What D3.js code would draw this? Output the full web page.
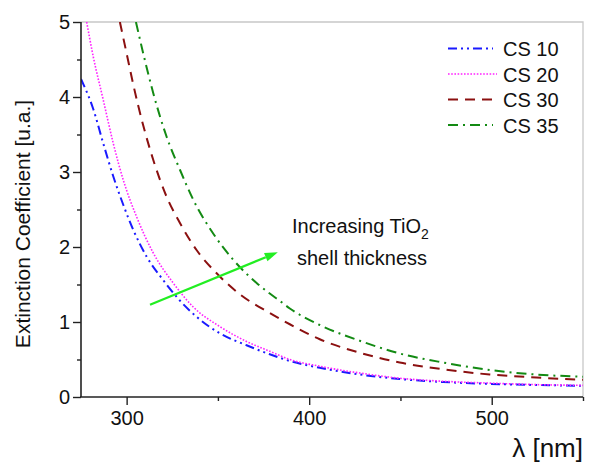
<!DOCTYPE html>
<html><head><meta charset="utf-8">
<script src="https://cdn.jsdelivr.net/npm/d3@7/dist/d3.min.js"></script>
<style>body{margin:0;background:#fff}svg{display:block}text{font-family:Arial,"Liberation Sans",sans-serif;fill:#111}</style>
</head><body><svg id="c" width="589" height="464"></svg>
<script>
// ---- data ----
const seriesNames = ["CS 10", "CS 20", "CS 30", "CS 35"];
const lambdaCS10 = [275, 281.7, 287.2, 292.7, 298.2, 303.6, 311, 320, 329, 338.3, 351, 365.7, 378.4, 389.4, 405.8, 427.7, 449.6, 473.3, 498.9, 524.4, 550];
const valuesCS10 = [4.24, 3.84, 3.38, 2.94, 2.56, 2.23, 1.87, 1.56, 1.29, 1.07, 0.85, 0.69, 0.57, 0.48, 0.39, 0.30, 0.24, 0.20, 0.175, 0.16, 0.15];
const lambdaCS20 = [278.1, 281.7, 287.2, 292.7, 298.2, 305.5, 314.6, 325.5, 336.5, 351, 365.7, 378.4, 389.4, 405.8, 427.7, 449.6, 473.3, 498.9, 524.4, 550];
const valuesCS20 = [5.0, 4.54, 3.96, 3.38, 2.89, 2.40, 1.92, 1.52, 1.20, 0.94, 0.74, 0.61, 0.50, 0.41, 0.32, 0.25, 0.21, 0.185, 0.165, 0.155];
const lambdaCS30 = [296.3, 300, 303.6, 309.1, 314.6, 321.9, 329.2, 338.3, 349.3, 362, 378.4, 389.4, 405.8, 427.7, 449.6, 473.3, 498.9, 524.4, 550];
const valuesCS30 = [5.0, 4.58, 4.17, 3.62, 3.16, 2.67, 2.32, 1.96, 1.65, 1.37, 1.12, 0.97, 0.77, 0.59, 0.46, 0.37, 0.30, 0.26, 0.23];
const lambdaCS35 = [305.1, 309.1, 314.6, 321.9, 329.2, 336.5, 347.4, 358.4, 371.2, 378.4, 384, 389.4, 405.8, 427.7, 449.6, 473.3, 498.9, 524.4, 550];
const valuesCS35 = [5.0, 4.58, 4.05, 3.47, 3.03, 2.63, 2.18, 1.83, 1.52, 1.38, 1.28, 1.18, 0.96, 0.75, 0.58, 0.46, 0.36, 0.30, 0.27];
const xTicks = [300, 400, 500];
const xMinorTicks = [350, 450, 550];
const yTicks = [0, 1, 2, 3, 4, 5];
const yMinorTicks = [0.5, 1.5, 2.5, 3.5, 4.5];
const arrowFrom = [312.8, 1.23];
const arrowTo = [382.8, 1.93];
const annotationLines = ["Increasing TiO", "shell thickness"];

// ---- styles ----
const colors = ["#1a1aff", "#ff22ff", "#8b1010", "#138a13"];
const dashes = ["9,4,2,4,2,4", "1.6,1.6", "10,7", "10,5,2,5"];
const widths = [2, 1.6, 2, 2];

const svg = d3.select("#c");
const L = 81, R = 583, T = 22, B = 397;
const x = d3.scaleLinear().domain([275, 550]).range([L, R]);
const y = d3.scaleLinear().domain([0, 5]).range([B, T]);

// frame (top/right)
svg.append("path").attr("d", `M${L},${T}H${R}V${B}`).attr("fill", "none").attr("stroke", "#c8c8c8").attr("stroke-width", 1.3);

svg.append("defs").append("clipPath").attr("id", "clip").append("rect")
  .attr("x", L).attr("y", T).attr("width", R - L).attr("height", B - T);

const data = [
  d3.zip(lambdaCS10, valuesCS10), d3.zip(lambdaCS20, valuesCS20),
  d3.zip(lambdaCS30, valuesCS30), d3.zip(lambdaCS35, valuesCS35)
];
const line = d3.line().x(d => x(d[0])).y(d => y(d[1])).curve(d3.curveMonotoneX);
const g = svg.append("g").attr("clip-path", "url(#clip)");
data.forEach((d, i) => {
  g.append("path").attr("d", line(d)).attr("fill", "none")
    .attr("stroke", colors[i]).attr("stroke-width", widths[i]).attr("stroke-dasharray", dashes[i]);
});

// axes
const xAxis = svg.append("g").attr("transform", `translate(0,${B})`)
  .call(d3.axisBottom(x).tickValues(xTicks).tickSize(8).tickSizeOuter(0).tickPadding(6).tickFormat(d3.format("d")));
const xMinor = svg.append("g").attr("transform", `translate(0,${B})`)
  .call(d3.axisBottom(x).tickValues(xMinorTicks).tickSize(4).tickSizeOuter(0).tickFormat(""));
const yAxis = svg.append("g").attr("transform", `translate(${L},0)`)
  .call(d3.axisLeft(y).tickValues(yTicks).tickSize(8).tickSizeOuter(0).tickPadding(3).tickFormat(d3.format("d")));
const yMinor = svg.append("g").attr("transform", `translate(${L},0)`)
  .call(d3.axisLeft(y).tickValues(yMinorTicks).tickSize(4).tickSizeOuter(0).tickFormat(""));
[xAxis, xMinor, yAxis, yMinor].forEach(a => {
  a.select(".domain").attr("stroke", "#222").attr("stroke-width", 1.6);
  a.selectAll(".tick line").attr("stroke", "#222").attr("stroke-width", 1.4);
  a.selectAll("text").style("font-size", "20px").attr("fill", "#111");
});
xMinor.select(".domain").remove(); yMinor.select(".domain").remove();
xAxis.select(".domain").attr("d", `M${L - 1},0H${R}`);
yAxis.select(".domain").attr("d", `M0,${B}V${T}`);

// axis titles
svg.append("text").attr("transform", `translate(30,224) rotate(-90)`)
  .attr("text-anchor", "middle").style("font-size", "21px").text("Extinction Coefficient [u.a.]");
svg.append("text").attr("x", 583).attr("y", 457).attr("text-anchor", "end")
  .style("font-size", "26px").text("λ [nm]");

// legend
seriesNames.forEach((n, i) => {
  const cy = 48.5 + i * 25.5;
  svg.append("line").attr("x1", 448).attr("x2", i === 1 ? 497 : 493).attr("y1", cy).attr("y2", cy)
    .attr("stroke", colors[i]).attr("stroke-width", widths[i]).attr("stroke-dasharray", dashes[i]);
  svg.append("text").attr("x", 503).attr("y", cy + 7.5).style("font-size", "20px").text(n);
});

// annotation
const t1 = svg.append("text").attr("x", 292).attr("y", 233).style("font-size", "20px");
t1.append("tspan").text(annotationLines[0]);
t1.append("tspan").attr("dy", 6).style("font-size", "14px").text("2");
svg.append("text").attr("x", 297).attr("y", 265).style("font-size", "20px").text(annotationLines[1]);

// arrow
const ax0 = x(arrowFrom[0]), ay0 = y(arrowFrom[1]), ax1 = x(arrowTo[0]), ay1 = y(arrowTo[1]);
const ang = Math.atan2(ay1 - ay0, ax1 - ax0);
const hl = 13, hw = 4.5;
const bx = ax1 - hl * Math.cos(ang), by = ay1 - hl * Math.sin(ang);
svg.append("line").attr("x1", ax0).attr("y1", ay0).attr("x2", bx).attr("y2", by)
  .attr("stroke", "#22ee22").attr("stroke-width", 2.2);
svg.append("path").attr("fill", "#22ee22")
  .attr("d", `M${ax1},${ay1}L${bx - hw * Math.sin(ang)},${by + hw * Math.cos(ang)}L${bx + hw * Math.sin(ang)},${by - hw * Math.cos(ang)}Z`);
</script></body></html>
